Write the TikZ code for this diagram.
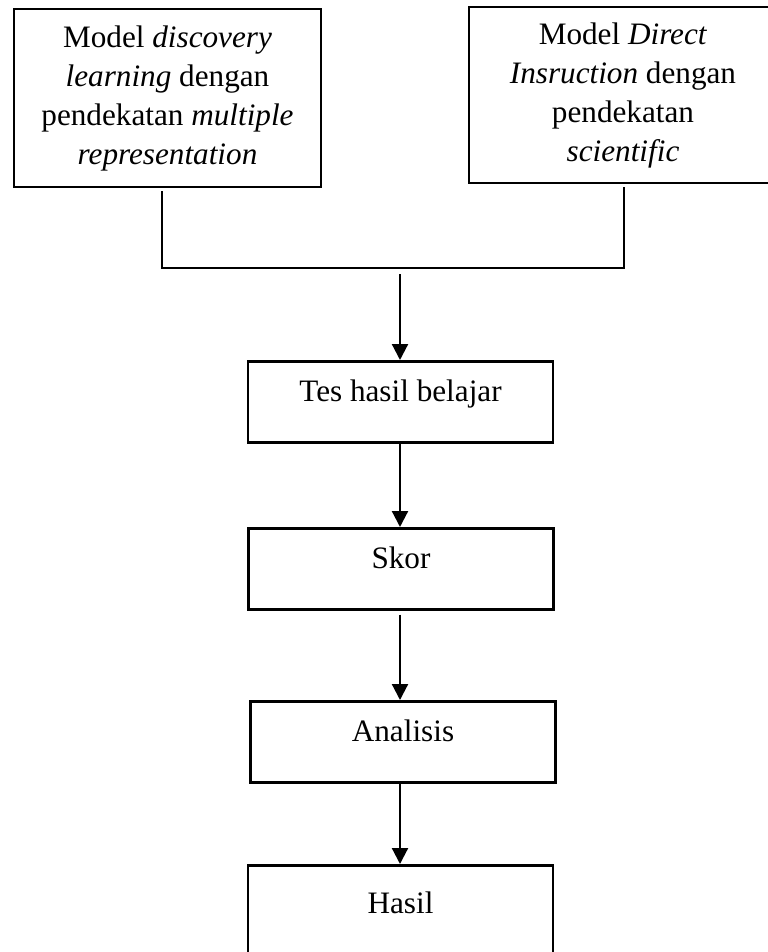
\documentclass[tikz,border=0pt]{standalone}
\usepackage{fontspec}
\setmainfont{Liberation Serif}
\usetikzlibrary{arrows.meta,positioning}

\begin{document}
\begin{tikzpicture}[x=0.5pt,y=-0.5pt,
		kotak/.style={draw,line width=1.3pt,rectangle,inner sep=0pt,align=center,font=\fontsize{15.6pt}{19.5pt}\selectfont},
		langkah/.style={kotak,anchor=north,minimum width=152.5pt,text height=20pt,text depth=20.5pt},
		panah/.style={line width=1.1pt,-{Triangle[length=8pt,width=8pt]}}]
		\useasboundingbox (0,0) rectangle (767,952);
		%Boxes
		\node[kotak,minimum width=153.5pt,minimum height=89pt] (kiri) at (167.5,98) {Model \textit{discovery}\\ \textit{learning} dengan\\ pendekatan \textit{multiple}\\ \textit{representation}};
		\node[kotak,minimum width=154pt,minimum height=88pt] (kanan) at (623,95) {Model \textit{Direct}\\ \textit{Insruction} dengan\\ pendekatan\\ \textit{scientific}};
		\node[langkah] (tes) at (400.5,360) {Tes hasil belajar};
		\node[langkah] (skor) at (401,527) {Skor};
		\node[langkah] (analisis) at (403,700) {Analisis};
		\node[langkah,text height=24pt,text depth=26pt] (hasil) at (400.5,864) {Hasil};
		%Join
		\coordinate (sudut kiri) at (162,268);
		\coordinate (sudut kanan) at (624,268);
		\coordinate (gabung) at (400,268);
		\draw[line width=1.1pt] ([yshift=-1.5pt]kiri.south -| sudut kiri) -- (sudut kiri) -- (sudut kanan) -- ([yshift=-1.5pt]kanan.south -| sudut kanan);
		%Arrows
		\draw[panah] ([yshift=-3pt]gabung) -- (gabung |- tes.north);
		\draw[panah] (gabung |- tes.south) -- (gabung |- skor.north);
		\draw[panah] ([yshift=-2pt]gabung |- skor.south) -- (gabung |- analisis.north);
		\draw[panah] (gabung |- analisis.south) -- (gabung |- hasil.north);
\end{tikzpicture}
\end{document}
